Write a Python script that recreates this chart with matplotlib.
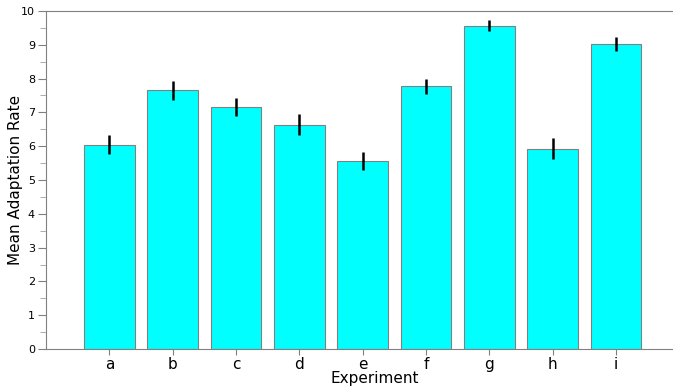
import numpy as np
import matplotlib
matplotlib.use("Agg")
import matplotlib.pyplot as plt
from matplotlib.ticker import MultipleLocator

# data
experiments = ['a', 'b', 'c', 'd', 'e', 'f', 'g', 'h', 'i']
mean_rate = [6.04, 7.66, 7.16, 6.64, 5.57, 7.77, 9.57, 5.93, 9.03]
rate_err = [0.28, 0.28, 0.28, 0.31, 0.27, 0.22, 0.15, 0.30, 0.20]

fig = plt.figure(figsize=(6.73, 3.86), dpi=100)
ax = fig.add_axes([46/673, 1 - 349/386, 1 - 46/673, 338/386])

x = np.arange(1, len(experiments) + 1)
ax.bar(x, mean_rate, width=0.8, color='#00ffff', edgecolor='#808080', linewidth=0.8)
ax.errorbar(x, mean_rate, yerr=rate_err, fmt='none', ecolor='black', elinewidth=1.8, capsize=0)

ax.set_xlim(0, 9.9)
ax.set_ylim(0, 10)
ax.set_xticks(x)
ax.set_xticklabels(experiments, fontsize=11)
ax.yaxis.set_major_locator(MultipleLocator(1))
ax.yaxis.set_minor_locator(MultipleLocator(0.5))
ax.tick_params(axis='y', which='major', labelsize=8, length=6, color='#808080', pad=2)
ax.tick_params(axis='y', which='minor', length=4, color='#a0a0a0')
ax.tick_params(axis='x', length=4, color='#808080', pad=2)

for side in ['left', 'top', 'bottom']:
    ax.spines[side].set_color('#808080')
ax.spines['right'].set_visible(False)

ax.set_xlabel('Experiment', fontsize=11)
ax.xaxis.set_label_coords(0.524, -0.066)
ax.set_ylabel('Mean Adaptation Rate', fontsize=11)
ax.yaxis.set_label_coords(-0.036, 0.5)

fig.savefig('out.png', dpi=100)
